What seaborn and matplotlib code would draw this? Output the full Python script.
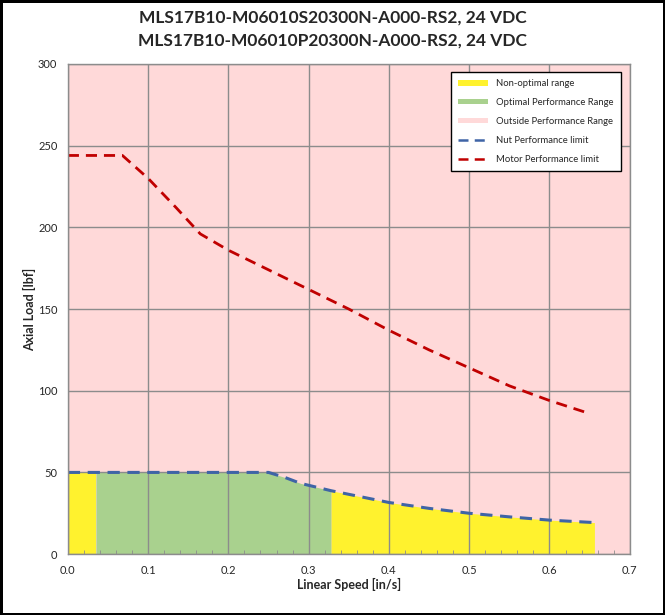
import numpy as np
import pandas as pd
import seaborn as sns
import matplotlib.pyplot as plt
from matplotlib.patches import Patch
from matplotlib.lines import Line2D
from matplotlib.ticker import MultipleLocator

# 모터 성능 한계 (Motor Performance limit)
motor_speed = [0.0, 0.068, 0.1, 0.135, 0.165, 0.2, 0.25, 0.3, 0.35, 0.4, 0.45, 0.5, 0.55, 0.6, 0.65]
motor_load = [244, 244, 230, 212, 196, 186, 174, 162, 150, 137, 125, 114, 103, 94, 86]

# 너트 성능 한계 (Nut Performance limit)
nut_speed = [0.0, 0.035, 0.1, 0.2, 0.25, 0.27, 0.29, 0.328, 0.4, 0.45, 0.5, 0.55, 0.6, 0.656]
nut_load = [50, 50, 50, 50, 50, 47, 43.3, 38.8, 31.6, 28, 25, 22.8, 20.8, 19.3]

# 최적 구간 경계
optimal_lo = 0.035
optimal_hi = 0.328

title_lines = ['MLS17B10-M06010S20300N-A000-RS2, 24 VDC',
               'MLS17B10-M06010P20300N-A000-RS2, 24 VDC']

pink = '#FFD9D9'
yellow = '#FFF22E'
green = '#A9D18E'
blue = '#3F64A6'
red = '#C00000'

sns.set_style('white')
plt.rcParams['font.family'] = ['Lato', 'DejaVu Sans']

fig = plt.figure(figsize=(6.65, 6.15), dpi=100)
fig.patch.set_edgecolor('black')
fig.patch.set_linewidth(2.5)
ax = fig.add_axes([0.102, 0.099, 0.845, 0.797])
ax.set_facecolor(pink)

nut = pd.DataFrame({'speed': nut_speed, 'load': nut_load})
motor = pd.DataFrame({'speed': motor_speed, 'load': motor_load})

x = nut['speed'].values
y = nut['load'].values
ax.fill_between(x, 0, y, where=(x <= optimal_lo), color=yellow, lw=0, zorder=2)
ax.fill_between(x, 0, y, where=(x >= optimal_lo) & (x <= optimal_hi), color=green, lw=0, zorder=2)
ax.fill_between(x, 0, y, where=(x >= optimal_hi), color=yellow, lw=0, zorder=2)

sns.lineplot(data=nut, x='speed', y='load', ax=ax, color=blue, lw=2.2,
             zorder=3).lines[-1].set_dashes([4, 2.5])
sns.lineplot(data=motor, x='speed', y='load', ax=ax, color=red, lw=2.0,
             zorder=3).lines[-1].set_dashes([4, 2.5])

ax.set_xlim(0, 0.7)
ax.set_ylim(0, 300)
ax.xaxis.set_major_locator(MultipleLocator(0.1))
ax.xaxis.set_minor_locator(MultipleLocator(0.02))
ax.yaxis.set_major_locator(MultipleLocator(50))
ax.xaxis.set_major_formatter(lambda v, p: f'{v:.1f}')
ax.grid(True, which='major', color='#8C8C8C', lw=1.0, zorder=1)
ax.set_axisbelow(False)
for s in ax.spines.values():
    s.set_color('#8C8C8C')
    s.set_linewidth(1.0)
    s.set_zorder(4)
ax.tick_params(axis='both', which='major', length=4, color='#8C8C8C', labelsize=8, direction='out')
ax.tick_params(axis='x', which='minor', length=3, color='#8C8C8C', direction='in', bottom=True)

ax.set_xlabel('Linear Speed [in/s]', fontsize=9, fontweight='bold', labelpad=2)
ax.set_ylabel('Axial Load [lbf]', fontsize=9, fontweight='bold', labelpad=1)

fig.text(0.5, 0.971, title_lines[0], ha='center', va='center', fontsize=12.5, fontweight='bold')
fig.text(0.5, 0.934, title_lines[1], ha='center', va='center', fontsize=12.5, fontweight='bold')

handles = [
    Patch(facecolor=yellow, edgecolor='none', label='Non-optimal range'),
    Patch(facecolor=green, edgecolor='none', label='Optimal Performance Range'),
    Patch(facecolor=pink, edgecolor='none', label='Outside Performance Range'),
    Line2D([0], [0], color=blue, lw=1.8, dashes=[4, 2.5], label='Nut Performance limit'),
    Line2D([0], [0], color=red, lw=1.8, dashes=[4, 2.5], label='Motor Performance limit'),
]
leg = ax.legend(handles=handles, loc='upper right', bbox_to_anchor=(0.993, 0.994),
                fontsize=6.8, frameon=True, fancybox=False, handlelength=3.2,
                handleheight=0.5, labelspacing=1.05, borderpad=0.8)
leg.get_frame().set_edgecolor('black')
leg.get_frame().set_linewidth(1.0)
leg.get_frame().set_facecolor('white')
leg.get_frame().set_alpha(1)

plt.savefig('out.png', dpi=100)
